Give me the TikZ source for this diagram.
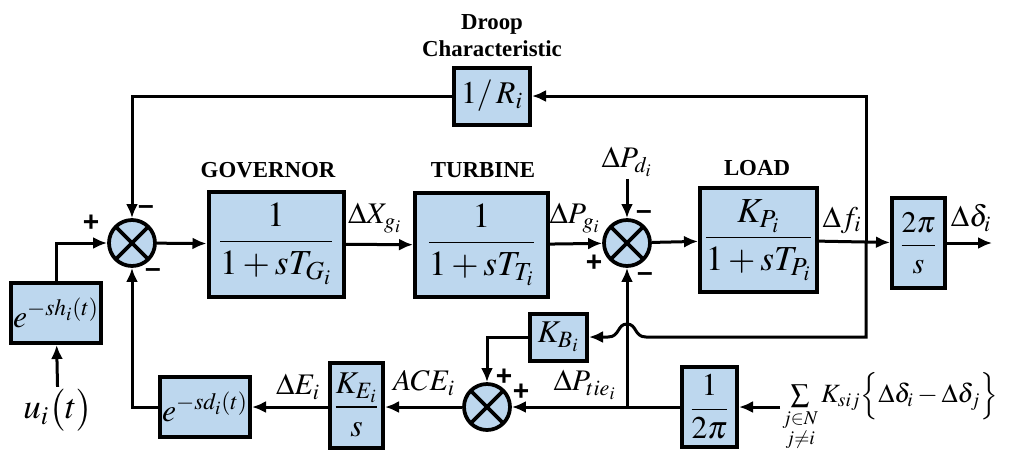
\documentclass[tikz,border=0pt]{standalone}
\usepackage{amsmath}
\usepackage{mathptmx}
\usepackage{fontspec}
\setmainfont{Liberation Serif}
\setsansfont{Liberation Sans}
\usepackage{tikz}
\usetikzlibrary{arrows.meta,positioning,calc}
\definecolor{ink}{HTML}{000000}
\definecolor{blockblue}{HTML}{BDD7EE}
\tikzset{
  blk/.style={rectangle, draw=ink, line width=0.8mm, fill=blockblue, inner sep=1pt, align=center, font=\fontsize{20}{24}\selectfont},
  sumj/.style={circle, draw=ink, line width=0.75mm, fill=blockblue, minimum size=9.2mm, inner sep=0pt,
    path picture={\draw[line width=0.75mm] (path picture bounding box.north west) -- (path picture bounding box.south east)
      (path picture bounding box.north east) -- (path picture bounding box.south west);}},
  sig/.style={font=\fontsize{17}{20}\selectfont, inner sep=1pt},
  tag/.style={font=\fontsize{13}{15.5}\selectfont\bfseries, align=center, inner sep=1pt},
  sgn/.style={font=\fontsize{16}{16}\selectfont\sffamily\bfseries, inner sep=0pt},
  arrow/.style={-{Latex[length=2.8mm,width=2.4mm]}, line width=0.6mm}
}

\begin{document}
\begin{tikzpicture}[x=0.2mm, y=-0.2mm]
  \useasboundingbox (0,0) rectangle (1015,452);

  % forward path
  \node[blk, minimum width=17.6mm, minimum height=12mm, font=\fontsize{18}{22}\selectfont] (delayh) at (56,313) {$e^{-sh_i(t)}$};
  \node[sig, font=\fontsize{20}{24}\selectfont] (ui) at (58,410) {$u_i\bigl(t\bigr)$};
  \node[sumj] (sum1) at (132,243) {};
  \node[blk, minimum width=27mm, minimum height=21mm] (gov) at (276,244) {$\dfrac{1}{1+sT_{G_i}}$};
  \node[tag] (govlbl) at (268,170) {GOVERNOR};
  \node[blk, minimum width=26.6mm, minimum height=20.8mm] (turb) at (481.5,245) {$\dfrac{1}{1+sT_{T_i}}$};
  \node[tag] (turblbl) at (483,170) {TURBINE};
  \node[sumj] (sum2) at (627,243) {};
  \node[sig] (pd) at (627,162) {$\Delta P_{d_i}$};
  \node[blk, minimum width=23.4mm, minimum height=20.8mm] (load) at (758.5,240) {$\dfrac{K_{P_i}}{1+sT_{P_i}}$};
  \node[tag] (loadlbl) at (757,168) {LOAD};
  \node[blk, minimum width=10.6mm, minimum height=18mm, font=\fontsize{17}{20}\selectfont] (integ) at (918.5,243) {$\dfrac{2\pi}{s}$};
  \coordinate (fbr) at (866,243);
  \coordinate (out) at (992,243);

  % droop loop
  \node[blk, minimum width=15.2mm, minimum height=11.4mm, font=\fontsize{18}{22}\selectfont] (droop) at (492,96) {$1/\,R_i$};
  \node[tag] (drooplbl) at (492,36) {Droop\\Characteristic};

  % tie-line / ACE loop
  \node[blk, minimum width=11.4mm, minimum height=9.4mm, font=\fontsize{18}{22}\selectfont] (kb) at (558.5,337) {$K_{B_i}$};
  \node[sumj] (sum3) at (487,407) {};
  \node[blk, minimum width=11mm, minimum height=16mm, font=\fontsize{18}{22}\selectfont] (inv2pi) at (709.5,407) {$\dfrac{1}{2\pi}$};
  \node[blk, minimum width=10.6mm, minimum height=17mm, font=\fontsize{18}{22}\selectfont] (ke) at (356.5,405) {$\dfrac{K_{E_i}}{s}$};
  \node[blk, minimum width=18mm, minimum height=12mm, font=\fontsize{18}{22}\selectfont] (delayd) at (205,407) {$e^{-sd_i(t)}$};
  \node[anchor=west, inner sep=1pt, font=\fontsize{15}{18}\selectfont] (tiesum) at (780,412)
    {$\sum\limits_{\substack{j\in N\\ j\neq i}} K_{sij}\Big\{\Delta\delta_i-\Delta\delta_j\Big\}$};
  \coordinate (tiej) at (627,407);
  \coordinate (hopR) at (646,337);
  \coordinate (hopL) at (608,337);

  % signal labels
  \node[sig] (dxg) at (375,218) {$\Delta X_{g_i}$};
  \node[sig] (dpg) at (575,218) {$\Delta P_{g_i}$};
  \node[sig] (dfi) at (842,220) {$\Delta f_i$};
  \node[sig] (ddi) at (971,218) {$\Delta\delta_i$};
  \node[sig] (dei) at (298,387) {$\Delta E_i$};
  \node[sig] (acei) at (424,383) {$ACE_i$};
  \node[sig] (dptie) at (585,385) {$\Delta P_{tie_i}$};

  % signs
  \node[sgn] (s1a) at (91,223) {+};
  \node[sgn] (s1b) at (146,210) {--};
  \node[sgn] (s1c) at (153,273) {--};
  \node[sgn] (s2a) at (644,215) {--};
  \node[sgn] (s2b) at (594,263) {+};
  \node[sgn] (s2c) at (645,277) {--};
  \node[sgn] (s3a) at (504,377) {+};
  \node[sgn] (s3b) at (521,392) {+};

  % connectors
  \draw[arrow] (ui) -- (delayh);
  \draw[arrow] (delayh.north) |- (sum1.west);
  \draw[arrow] (sum1) -- (gov);
  \draw[arrow] (gov) -- (turb);
  \draw[arrow] (turb) -- (sum2);
  \draw[arrow] (pd) -- (sum2);
  \draw[arrow] (sum2) -- (load);
  \draw[arrow] (load) -- (integ);
  \draw[arrow] (integ) -- (out);
  \draw[arrow] (fbr) |- (droop.east);
  \draw[arrow] (droop.west) -| (sum1.north);
  \draw[arrow] (fbr) |- (hopR) .. controls (634,337) and (637,324) .. (627,324)
    .. controls (617,324) and (620,337) .. (hopL) -- (kb.east);
  \draw[arrow] (kb.west) -| (sum3.north);
  \draw[arrow] (tiej) -- (sum2);
  \draw[arrow] (inv2pi) -- (sum3);
  \draw[arrow] (sum3) -- (sum3 -| ke.east);
  \draw[arrow] (ke.west |- delayd) -- (delayd);
  \draw[arrow] (delayd.west) -| (sum1.south);
  \draw[arrow] (tiesum.west |- inv2pi) -- (inv2pi);
\end{tikzpicture}
\end{document}
